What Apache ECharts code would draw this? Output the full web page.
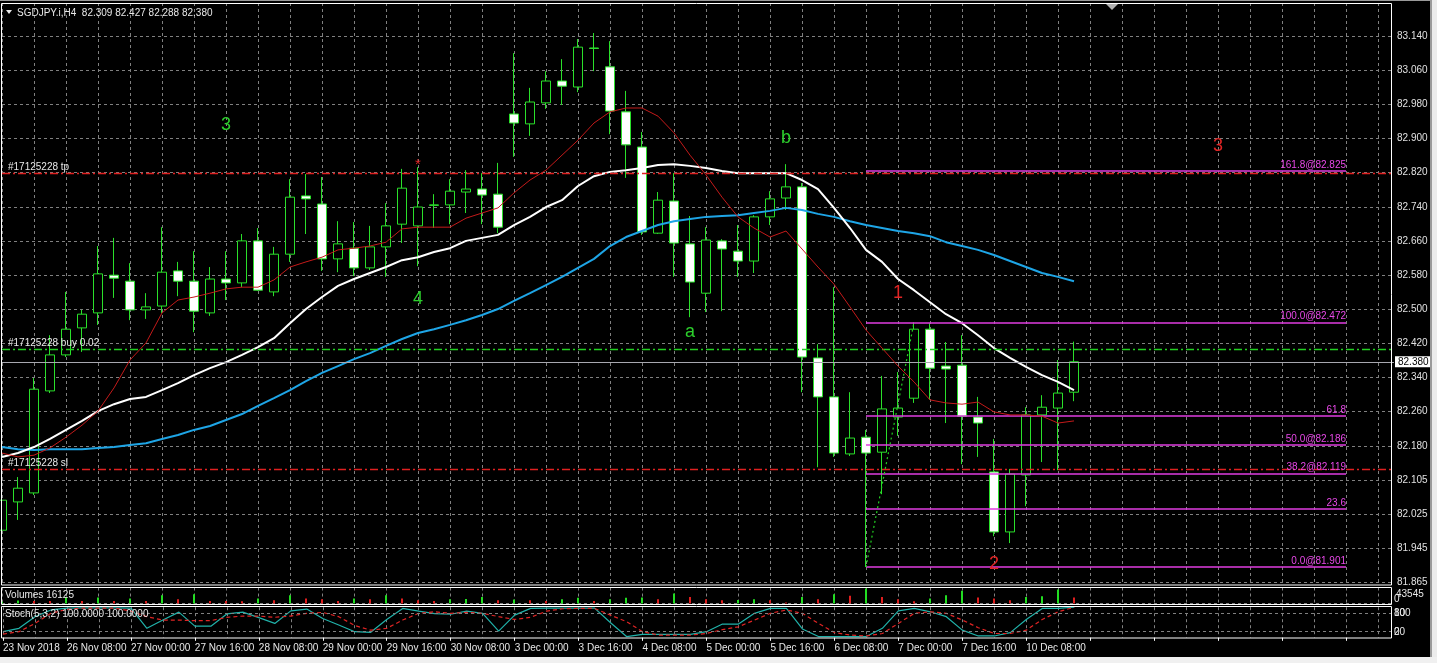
<!DOCTYPE html>
<html><head><meta charset="utf-8">
<script src="https://cdn.jsdelivr.net/npm/echarts@6/dist/echarts.min.js"></script>
<style>html,body{margin:0;padding:0;background:#000;overflow:hidden}#c{width:1437px;height:663px}</style>
</head><body><div id="c"></div>
<script>
// ---------------- DATA ----------------
const barTimes = ["23 Nov 2018","23 Nov 20:00","26 Nov 00:00","26 Nov 04:00","26 Nov 08:00","26 Nov 12:00","26 Nov 16:00","26 Nov 20:00",
"27 Nov 00:00","27 Nov 04:00","27 Nov 08:00","27 Nov 12:00","27 Nov 16:00","27 Nov 20:00","28 Nov 00:00","28 Nov 04:00",
"28 Nov 08:00","28 Nov 12:00","28 Nov 16:00","28 Nov 20:00","29 Nov 00:00","29 Nov 04:00","29 Nov 08:00","29 Nov 12:00",
"29 Nov 16:00","29 Nov 20:00","30 Nov 00:00","30 Nov 04:00","30 Nov 08:00","30 Nov 12:00","30 Nov 16:00","30 Nov 20:00",
"3 Dec 00:00","3 Dec 04:00","3 Dec 08:00","3 Dec 12:00","3 Dec 16:00","3 Dec 20:00","4 Dec 00:00","4 Dec 04:00",
"4 Dec 08:00","4 Dec 12:00","4 Dec 16:00","4 Dec 20:00","5 Dec 00:00","5 Dec 04:00","5 Dec 08:00","5 Dec 12:00",
"5 Dec 16:00","5 Dec 20:00","6 Dec 00:00","6 Dec 04:00","6 Dec 08:00","6 Dec 12:00","6 Dec 16:00","6 Dec 20:00",
"7 Dec 00:00","7 Dec 04:00","7 Dec 08:00","7 Dec 12:00","7 Dec 16:00","7 Dec 20:00","10 Dec 00:00","10 Dec 04:00",
"10 Dec 08:00","10 Dec 12:00","10 Dec 16:00","10 Dec 20:00"];
const futureSlots = 20;

const opens  = [81.987,82.053,82.074,82.312,82.396,82.459,82.494,82.582,82.568,82.501,82.510,82.592,82.568,82.494,82.573,82.564,
82.662,82.543,82.631,82.767,82.748,82.620,82.645,82.599,82.648,82.701,82.697,82.746,82.746,82.776,82.783,82.771,
82.958,82.935,82.984,83.035,83.021,83.112,83.068,82.963,82.881,82.680,82.755,82.655,82.540,82.662,82.638,82.615,
82.718,82.762,82.788,82.389,82.298,82.165,82.204,82.169,82.251,82.295,82.456,82.370,82.372,82.251,82.123,81.983,
82.116,82.256,82.272,82.309];
const highs  = [82.109,82.111,82.342,82.442,82.543,82.501,82.650,82.669,82.610,82.540,82.694,82.613,82.638,82.601,82.638,82.678,
82.692,82.648,82.806,82.818,82.811,82.708,82.706,82.697,82.750,82.830,82.834,82.771,82.806,82.827,82.820,82.844,
83.100,83.019,83.058,83.086,83.133,83.147,83.128,83.012,82.916,82.776,82.820,82.720,82.694,82.666,82.699,82.722,
82.778,82.841,82.797,82.421,82.554,82.309,82.221,82.347,82.356,82.472,82.470,82.426,82.442,82.298,82.200,82.130,
82.274,82.302,82.384,82.427];
const lows   = [81.952,82.011,82.069,82.307,82.391,82.403,82.466,82.529,82.477,82.480,82.494,82.533,82.449,82.487,82.524,82.554,
82.545,82.533,82.613,82.678,82.592,82.589,82.580,82.594,82.578,82.657,82.603,82.692,82.701,82.727,82.701,82.680,
82.858,82.907,82.970,82.979,83.009,83.058,82.911,82.809,82.676,82.678,82.578,82.484,82.496,82.498,82.578,82.587,
82.699,82.734,82.309,82.134,82.158,82.160,81.901,82.071,82.207,82.284,82.291,82.237,82.141,82.158,81.973,81.957,
82.043,82.146,82.127,82.288];
const closes = [82.057,82.085,82.316,82.396,82.456,82.491,82.585,82.575,82.501,82.508,82.589,82.568,82.498,82.573,82.564,82.662,
82.547,82.631,82.764,82.760,82.620,82.655,82.599,82.648,82.697,82.785,82.741,82.745,82.778,82.783,82.769,82.694,
82.937,82.986,83.035,83.023,83.114,83.111,82.965,82.886,82.683,82.757,82.657,82.566,82.664,82.643,82.615,82.718,
82.760,82.788,82.391,82.298,82.167,82.202,82.167,82.270,82.272,82.456,82.365,82.363,82.253,82.237,81.983,82.118,
82.256,82.274,82.307,82.380];

const maRed = [82.167,82.158,82.162,82.179,82.204,82.232,82.265,82.319,82.384,82.424,82.494,82.524,82.531,82.540,82.550,82.554,
82.554,82.571,82.601,82.613,82.624,82.641,82.645,82.650,82.659,82.690,82.694,82.694,82.694,82.715,82.727,82.739,
82.774,82.804,82.827,82.862,82.897,82.937,82.963,82.972,82.972,82.953,82.914,82.862,82.816,82.764,82.718,82.692,
82.671,82.685,82.643,82.601,82.561,82.508,82.454,82.412,82.370,82.333,82.291,82.284,82.281,82.286,82.263,82.256,
82.256,82.253,82.237,82.242];
const maWhite = [82.158,82.167,82.181,82.200,82.221,82.242,82.265,82.281,82.293,82.298,82.314,82.330,82.349,82.365,82.379,82.396,
82.414,82.435,82.470,82.503,82.531,82.557,82.573,82.587,82.601,82.617,82.624,82.636,82.645,82.662,82.669,82.676,
82.699,82.718,82.741,82.757,82.790,82.813,82.823,82.827,82.832,82.839,82.841,82.837,82.832,82.825,82.820,82.820,
82.820,82.820,82.804,82.783,82.739,82.692,82.641,82.613,82.573,82.547,82.519,82.491,82.470,82.442,82.412,82.389,
82.368,82.349,82.333,82.314];
const maBlue = [82.181,82.176,82.174,82.176,82.176,82.176,82.179,82.181,82.186,82.190,82.200,82.209,82.221,82.230,82.244,82.258,
82.277,82.295,82.314,82.335,82.354,82.370,82.386,82.400,82.417,82.433,82.447,82.456,82.466,82.477,82.489,82.503,
82.522,82.540,82.559,82.578,82.599,82.620,82.650,82.671,82.685,82.699,82.708,82.713,82.718,82.720,82.722,82.727,
82.732,82.739,82.734,82.725,82.718,82.708,82.699,82.692,82.685,82.680,82.673,82.659,82.650,82.641,82.629,82.615,
82.601,82.587,82.578,82.568];

const volumes = [5000,8000,7000,6500,18000,7000,16000,7000,13600,7000,22700,11800,25400,7000,6500,6000,
13600,9000,22700,13600,11800,7000,13600,11800,22700,13600,9000,7000,11800,12500,18000,9000,
10900,9000,7000,11800,15400,7000,11800,15400,16000,11800,27200,18000,11800,9000,9500,11800,
9000,3000,18000,11800,25400,21000,40800,18000,11800,6000,13600,22700,34500,16300,13600,9000,
18000,20000,38000,16125];
const volumeMax = 43545;

const stochK = [20,31,69,91,97,98,98,98,97,31,58,84,38,38,78,84,66,47,88,94,63,42,20,18,60,96,87,79,77,87,80,22,
74,96,97,97,97,97,49,4,11,11,11,11,20,45,45,80,96,96,29,4,4,4,4,31,88,96,85,69,25,6,6,17,60,96,96,100];
const stochD = [12,20,47,80,93,97,97,97,87,69,58,58,56,56,67,71,71,67,71,80,83,69,40,25,31,58,80,85,80,83,80,69,
60,67,87,95,96,96,74,53,20,9,9,9,14,27,36,58,80,91,80,47,17,9,6,14,47,80,85,80,58,33,14,14,25,60,85,100];

const priceTickLabels = ["81.865","81.945","82.025","82.105","82.180","82.260","82.340","82.420","82.500",
"82.580","82.660","82.740","82.820","82.900","82.980","83.060","83.140"];
const yMin = 81.865, yStep = 0.0796875, yMax = 83.217;

const fibNames  = ["161.8@82.825","100.0@82.472","61.8","50.0@82.186","38.2@82.119","23.6","0.0@81.901"];
const fibValues = [82.825,82.472,82.254,82.186,82.119,82.036,81.901];
const fibStartIdx = 54, fibEndIdx = 84;

const orderNames  = ["#17125228 tp","#17125228 buy 0.02","#17125228 sl"];
const orderValues = [82.818,82.406,82.125];
const bidPrice = 82.380;

const waveNames  = ["3","4","a","b","*","1","2","3"];
const waveIdx    = [14,26,43,49,26,56,62,76];
const wavePrices = [82.932,82.524,82.449,82.900,82.839,82.540,81.906,82.881];
const waveGreen  = [true,true,true,true,false,false,false,false];

// ---------------- BUILD ----------------
const cats = barTimes.slice();
for (let k = 0; k < futureSlots; k++) cats.push('+' + k);
const candles = opens.map((o, i) => [o, closes[i], lows[i], highs[i]]);
const volData = volumes.map((v, i) => ({
  value: v,
  itemStyle: { color: (i > 0 && v < volumes[i - 1]) ? '#e01e1e' : '#22dd22' }
}));

const FONT = 'Liberation Sans';
const GRID_C = '#808080';
const GREEN = '#2ae02a';
const FIB_C = '#e03ce0';

const split = { show: true, interval: 1, lineStyle: { color: GRID_C, type: [3, 3], width: 1 } };

const orderColors = ['#e02020', '#22d022', '#e02020'];
const orderLines = orderValues.map((v, i) => ({
  yAxis: v,
  lineStyle: { color: orderColors[i], type: [8, 3, 2, 3], width: 1.3 },
  label: { show: true, formatter: orderNames[i], position: 'insideStartTop', distance: [6, 1],
           color: '#e8e8e8', fontSize: 10, fontFamily: FONT }
}));
const bidLine = {
  yAxis: bidPrice,
  lineStyle: { color: '#a8a8b0', type: 'solid', width: 1 },
  label: { show: true, formatter: bidPrice.toFixed(3), position: 'end', distance: 1,
           color: '#000', backgroundColor: '#fff', padding: [1, 3, 0, 3], fontSize: 10, fontFamily: FONT }
};
const fibLines = fibValues.map((v, i) => ([
  { coord: [fibStartIdx, v], lineStyle: { color: FIB_C, type: 'solid', width: 1.5, opacity: 1 },
    label: { show: true, formatter: fibNames[i], position: 'insideEndTop', distance: [0, 1],
             color: '#e848e8', fontSize: 10, fontFamily: FONT } },
  { coord: [fibEndIdx, v] }
]));
const trendLine = [
  { coord: [fibStartIdx, fibValues[6]], lineStyle: { color: '#22d022', type: [2, 3], width: 1.2 }, label: { show: false } },
  { coord: [57, fibValues[1]] }
];

const waveMarks = waveNames.map((t, i) => ({
  coord: [waveIdx[i], wavePrices[i]],
  symbolSize: 1,
  itemStyle: { color: 'rgba(0,0,0,0)' },
  label: { show: true, formatter: t, position: 'inside', color: waveGreen[i] ? '#2ccf2c' : '#e02424',
           fontSize: t === '*' ? 15 : 18, fontFamily: FONT }
}));

const txt = (x, y, t, fill, size, align) => ({
  type: 'text', x: x, y: y, z: 100, silent: true,
  style: { text: t, fill: fill || '#e8e8e8', font: (size || 10) + 'px "' + FONT + '"',
           textAlign: align || 'left', textVerticalAlign: 'middle' }
});
const frame = (x, y, w, h) => ({
  type: 'rect', z: 90, silent: true, shape: { x: x, y: y, width: w, height: h },
  style: { fill: null, stroke: '#ffffff', lineWidth: 1 }
});

const option = {
  backgroundColor: '#000',
  animation: false,
  grid: [
    { left: 2, width: 1392, top: 3, height: 579.5 },
    { left: 2, width: 1392, top: 587.5, height: 16 },
    { left: 2, width: 1392, top: 607.2, height: 30.6 }
  ],
  xAxis: [0, 1, 2].map(g => ({
    type: 'category', gridIndex: g, data: cats, boundaryGap: false,
    axisLine: { show: false },
    axisTick: g === 2 ? { show: true, interval: 3, length: 3, lineStyle: { color: '#fff' } } : { show: false },
    axisLabel: g === 2 ? { show: true, interval: 3, color: '#e8e8e8', fontSize: 10, fontFamily: FONT,
                           align: 'left', margin: 5, formatter: v => (String(v).charAt(0) === '+' ? '' : v) }
                       : { show: false },
    splitLine: split
  })),
  yAxis: [
    { type: 'value', gridIndex: 0, position: 'right', min: yMin, max: yMax, interval: yStep, scale: true,
      axisLine: { show: false }, axisTick: { show: false },
      axisLabel: { show: true, margin: 3, color: '#e0e0e0', fontSize: 10, fontFamily: FONT, showMaxLabel: false,
        formatter: v => { const k = Math.round((v - yMin) / yStep);
          return (k >= 0 && k < priceTickLabels.length && Math.abs(v - (yMin + k * yStep)) < 1e-4) ? priceTickLabels[k] : ''; } },
      splitLine: { show: true, lineStyle: { color: GRID_C, type: [3, 3], width: 1 } } },
    { type: 'value', gridIndex: 1, min: 0, max: volumeMax, interval: volumeMax, position: 'right',
      axisLine: { show: false }, axisTick: { show: false }, axisLabel: { show: false },
      splitLine: { show: true, lineStyle: { color: GRID_C, type: [3, 3], width: 1 } } },
    { type: 'value', gridIndex: 2, min: 0, max: 100, interval: 20, position: 'right',
      axisLine: { show: false }, axisTick: { show: false }, axisLabel: { show: false }, splitLine: { show: false } }
  ],
  series: [
    { type: 'candlestick', xAxisIndex: 0, yAxisIndex: 0, data: candles, barWidth: 9, z: 2,
      itemStyle: { color: '#000', color0: '#fff', borderColor: GREEN, borderColor0: GREEN, borderWidth: 1 },
      markLine: { silent: true, symbol: ['none', 'none'], animation: false,
        data: [bidLine].concat(orderLines, fibLines, [trendLine]) },
      markPoint: { silent: true, animation: false, data: waveMarks } },
    { type: 'line', xAxisIndex: 0, yAxisIndex: 0, data: maBlue, showSymbol: false, symbol: 'none', z: 3,
      lineStyle: { color: '#1ea5e6', width: 2 } },
    { type: 'line', xAxisIndex: 0, yAxisIndex: 0, data: maWhite, showSymbol: false, symbol: 'none', z: 4,
      lineStyle: { color: '#ffffff', width: 2 } },
    { type: 'line', xAxisIndex: 0, yAxisIndex: 0, data: maRed, showSymbol: false, symbol: 'none', z: 5,
      lineStyle: { color: '#c41a1a', width: 1 } },
    { type: 'bar', xAxisIndex: 1, yAxisIndex: 1, data: volData, barWidth: 2 },
    { type: 'line', xAxisIndex: 2, yAxisIndex: 2, data: stochK, showSymbol: false, symbol: 'none',
      lineStyle: { color: '#20b2aa', width: 1.2 },
      markLine: { silent: true, symbol: ['none', 'none'], label: { show: false },
        lineStyle: { color: GRID_C, type: [3, 3], width: 1 }, data: [{ yAxis: 80 }, { yAxis: 20 }] } },
    { type: 'line', xAxisIndex: 2, yAxisIndex: 2, data: stochD, showSymbol: false, symbol: 'none',
      lineStyle: { color: '#e02424', width: 1.2, type: [4, 3] } }
  ],
  graphic: [
    { type: 'rect', z: 95, silent: true, shape: { x: 0, y: 0, width: 1437, height: 1 }, style: { fill: '#9a9a9a' } },
    { type: 'rect', z: 95, silent: true, shape: { x: 1430, y: 0, width: 2, height: 663 }, style: { fill: '#9a9a9a' } },
    { type: 'rect', z: 95, silent: true, shape: { x: 1432, y: 0, width: 5, height: 663 }, style: { fill: '#ececec' } },
    { type: 'rect', z: 95, silent: true, shape: { x: 0, y: 657, width: 1437, height: 6 }, style: { fill: '#f0f0f0' } },
    frame(1.5, 3.5, 1390, 581.5),
    frame(1.5, 587.5, 1390, 17),
    frame(1.5, 606.5, 1390, 31.5),
    { type: 'polygon', z: 100, silent: true, shape: { points: [[6, 10], [12, 10], [9, 14]] }, style: { fill: '#e8e8e8' } },
    { type: 'polygon', z: 100, silent: true, shape: { points: [[1106, 4], [1118, 4], [1112, 10]] }, style: { fill: '#b0b0b0' } },
    txt(17, 13, 'SGDJPY.i,H4  ' + [opens[67], highs[67], lows[67], closes[67]].map(v => v.toFixed(3)).join(' ')),
    txt(5, 595, 'Volumes ' + volumes[volumes.length - 1]),
    txt(5, 614, 'Stoch(5,3,2) ' + stochK[stochK.length - 1].toFixed(4) + ' ' + stochD[stochD.length - 1].toFixed(4)),
    txt(1396, 594, String(volumeMax)),
    txt(1394, 599, '0'),
    txt(1394, 613, '100'),
    txt(1394, 613, '80'),
    txt(1394, 632, '20'),
    txt(1394, 632, '0')
  ]
};
const chart = echarts.init(document.getElementById('c'), null, { renderer: 'canvas', width: 1437, height: 663 });
chart.setOption(option);
</script></body></html>
